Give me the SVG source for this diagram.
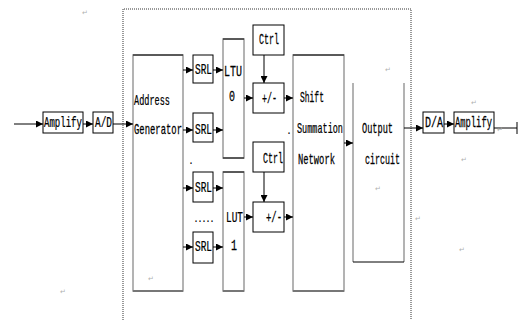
<svg xmlns="http://www.w3.org/2000/svg" width="518" height="320" viewBox="0 0 518 320">
<defs>
<marker id="ah" markerUnits="userSpaceOnUse" markerWidth="7" markerHeight="7" refX="7" refY="3.5" orient="auto">
<path d="M0,0 L7,3.5 L0,7 z" fill="#000"/>
</marker>
<style>
text{font-family:"Liberation Mono",monospace;font-size:14px;fill:#000;stroke:#000;stroke-width:0.25}
.b{fill:#fff;stroke:#000;stroke-width:1}
.t{fill:#fff;stroke:#9a9a9a;stroke-width:1.5}
.k{stroke:#000;stroke-width:1;fill:none}
.g{stroke:#777;stroke-width:2;fill:none}
.c{stroke:#000;stroke-width:1;fill:none;marker-end:url(#ah)}
.d{font-size:10px;stroke:none}
.r{font-size:7px;fill:#b0b0b0;stroke:none;font-family:"DejaVu Sans",sans-serif}
</style>
</defs>
<rect width="518" height="320" fill="#fff"/>
<path d="M123,320 V9 H411 V320" fill="none" stroke="#333" stroke-width="1" stroke-dasharray="1 1"/>

<g id="amp_in"><rect class="b" x="43" y="112" width="40" height="21"/><text transform="translate(44,127) scale(0.646,1)">Amplify</text></g>
<g id="ad"><rect class="b" x="93" y="112" width="20" height="21"/><text transform="translate(95,127) scale(0.675,1)">A/D</text></g>
<g id="addr"><rect class="t" x="133" y="55" width="50" height="236"/><path class="k" d="M133,55 H183"/><path class="g" d="M133,291 H183"/>
<text transform="translate(134,105) scale(0.612,1)">Address</text>
<text transform="translate(134,134) scale(0.635,1)">Generator</text></g>
<g id="srl1"><rect class="b" x="193" y="55" width="20" height="28"/><text transform="translate(195,74) scale(0.675,1)">SRL</text></g>
<g id="srl2"><rect class="b" x="193" y="113" width="20" height="29"/><text transform="translate(195,134) scale(0.675,1)">SRL</text></g>
<g id="srl3"><rect class="b" x="193" y="172" width="20" height="30"/><text transform="translate(195,192) scale(0.675,1)">SRL</text></g>
<g id="srl4"><rect class="b" x="193" y="232" width="20" height="31"/><text transform="translate(195,251) scale(0.675,1)">SRL</text></g>
<g id="ltu0"><rect class="t" x="223" y="39" width="21" height="119"/><path class="k" d="M223,39 H244 M223,158 H244"/>
<text transform="translate(224,76) scale(0.714,1)">LTU</text><text transform="translate(229,101) scale(0.714,1)">0</text></g>
<g id="lut1"><rect class="t" x="223" y="172" width="21" height="119"/><path class="k" d="M223,172 H244"/><path class="g" d="M223,291 H244"/>
<text transform="translate(226,222) scale(0.675,1)">LUT</text><text transform="translate(231,250) scale(0.714,1)">1</text></g>
<g id="ctrl1"><rect class="b" x="253" y="25" width="31" height="30"/><text transform="translate(259,44) scale(0.595,1)">Ctrl</text></g>
<g id="pm1"><rect class="b" x="253" y="83" width="31" height="30"/><text transform="translate(262,103) scale(0.595,1)">+/-</text></g>
<g id="ctrl2"><rect class="b" x="253" y="142" width="31" height="30"/><text transform="translate(263,163) scale(0.595,1)">Ctrl</text></g>
<g id="pm2"><rect class="b" x="253" y="202" width="31" height="30"/><text transform="translate(266,222) scale(0.635,1)">+/-</text></g>
<g id="ssn"><rect class="t" x="293" y="55" width="51" height="236"/><path class="k" d="M293,55 H344"/><path class="g" d="M293,291 H344"/>
<text transform="translate(300,102) scale(0.571,1)">Shift</text>
<text transform="translate(297,133) scale(0.608,1)">Summation</text>
<text transform="translate(298,164) scale(0.629,1)">Network</text></g>
<g id="out"><path class="t" d="M353,83 V262 M404,83 V262"/><path class="k" d="M353,262 H404"/>
<text transform="translate(362,133) scale(0.615,1)">Output</text>
<text transform="translate(365,164) scale(0.595,1)">circuit</text></g>
<g id="da"><rect class="b" x="423" y="112" width="21" height="21"/><text transform="translate(425,127) scale(0.714,1)">D/A</text></g>
<g id="amp_out"><rect class="b" x="454" y="112" width="40" height="21"/><text transform="translate(455,127) scale(0.629,1)">Amplify</text></g>

<g id="connectors">
<path class="c" d="M14,124 H43"/>
<path class="c" d="M83,124 H93"/>
<path class="c" d="M113,124 H133"/>
<path class="c" d="M183,70 H193"/>
<path class="c" d="M183,130 H193"/>
<path class="c" d="M183,188 H193"/>
<path class="c" d="M183,247 H193"/>
<path class="c" d="M213,70 H223"/>
<path class="c" d="M213,130 H223"/>
<path class="c" d="M213,188 H223"/>
<path class="c" d="M213,247 H223"/>
<path class="c" d="M244,98 H253"/>
<path class="c" d="M244,217 H253"/>
<path class="c" d="M264,55 V83"/>
<path class="c" d="M264,172 V202"/>
<path class="c" d="M284,98 H293"/>
<path class="c" d="M284,217 H293"/>
<path class="c" d="M344,143 H353"/>
<path class="c" d="M404,128 H423"/>
<path class="c" d="M444,124 H454"/>
<path class="k" d="M494,128 H517 M517,122 V134"/>
</g>

<text class="d" x="188" y="164">.</text>
<text class="d" x="286" y="134">.</text>
<text class="d" x="193" y="222" textLength="22" lengthAdjust="spacing">.....</text>

<text class="r" x="82" y="15">↵</text>
<text class="r" x="471" y="105">↵</text>
<text class="r" x="461" y="162">↵</text>
<text class="r" x="385" y="72">↵</text>
<text class="r" x="375" y="191">↵</text>
<text class="r" x="415" y="221">↵</text>
<text class="r" x="459" y="252">↵</text>
<text class="r" x="148" y="281">↵</text>
<text class="r" x="60" y="294">↵</text>
<text class="r" x="497" y="132">↵</text>
</svg>
